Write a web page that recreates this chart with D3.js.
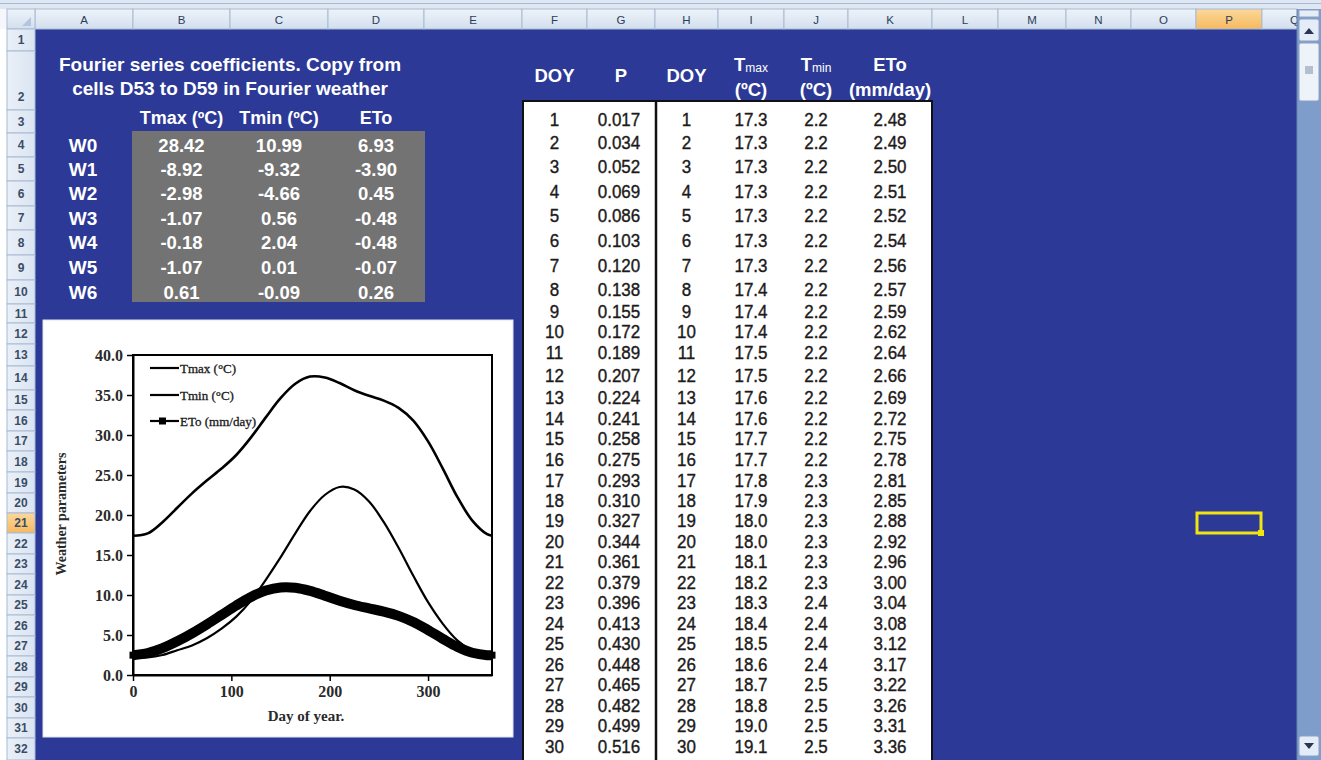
<!DOCTYPE html>
<html><head><meta charset="utf-8">
<script src="https://cdn.jsdelivr.net/npm/d3@7"></script>
<style>body{margin:0;overflow:hidden;background:#fff}svg{display:block}</style>
</head><body><svg id="s" width="1321" height="760"></svg>
<script>
// ---------------- DATA ----------------
const colLetters = ["A","B","C","D","E","F","G","H","I","J","K","L","M","N","O","P","Q"];
const rowNumbers = [1,2,3,4,5,6,7,8,9,10,11,12,13,14,15,16,17,18,19,20,21,22,23,24,25,26,27,28,29,30,31,32];

const titleLines = ["Fourier series coefficients. Copy from", "cells D53 to D59 in Fourier weather"];
const coefHeaders = ["Tmax (\u00BAC)", "Tmin (\u00BAC)", "ETo"];
const coefLabels = ["W0","W1","W2","W3","W4","W5","W6"];
const coefTmax = [28.42,-8.92,-2.98,-1.07,-0.18,-1.07,0.61];
const coefTmin = [10.99,-9.32,-4.66,0.56,2.04,0.01,-0.09];
const coefEto  = [6.93,-3.90,0.45,-0.48,-0.48,-0.07,0.26];

const tableDoy = [1,2,3,4,5,6,7,8,9,10,11,12,13,14,15,16,17,18,19,20,21,22,23,24,25,26,27,28,29,30];
const tableP = [0.017,0.034,0.052,0.069,0.086,0.103,0.120,0.138,0.155,0.172,0.189,0.207,0.224,0.241,0.258,0.275,0.293,0.310,0.327,0.344,0.361,0.379,0.396,0.413,0.430,0.448,0.465,0.482,0.499,0.516];
const tableTmax = [17.3,17.3,17.3,17.3,17.3,17.3,17.3,17.4,17.4,17.4,17.5,17.5,17.6,17.6,17.7,17.7,17.8,17.9,18.0,18.0,18.1,18.2,18.3,18.4,18.5,18.6,18.7,18.8,19.0,19.1];
const tableTmin = [2.2,2.2,2.2,2.2,2.2,2.2,2.2,2.2,2.2,2.2,2.2,2.2,2.2,2.2,2.2,2.2,2.3,2.3,2.3,2.3,2.3,2.3,2.4,2.4,2.4,2.4,2.5,2.5,2.5,2.5];
const tableEto = [2.48,2.49,2.50,2.51,2.52,2.54,2.56,2.57,2.59,2.62,2.64,2.66,2.69,2.72,2.75,2.78,2.81,2.85,2.88,2.92,2.96,3.00,3.04,3.08,3.12,3.17,3.22,3.26,3.31,3.36];

// chart series
const chartDays = [0,15,30,45,60,75,90,105,120,135,150,165,180,195,210,225,240,255,270,285,300,315,330,345,360,365];
const chartTmax = [17.4,17.7,19.1,20.9,22.7,24.3,25.8,27.5,29.7,32.2,34.6,36.4,37.3,37.2,36.5,35.6,34.9,34.3,33.4,31.8,29.2,25.8,22.2,19.3,17.6,17.4];
const chartTmin = [2.2,2.2,2.5,3.1,3.7,4.6,5.8,7.3,9.3,11.9,14.7,17.7,20.5,22.5,23.5,23.2,21.7,19.1,15.9,12.4,9.1,6.4,4.3,3.0,2.3,2.2];
const chartEto  = [2.48,2.75,3.36,4.21,5.21,6.32,7.50,8.69,9.75,10.55,10.95,10.91,10.51,9.91,9.28,8.75,8.33,7.92,7.39,6.62,5.62,4.52,3.50,2.78,2.48,2.48];
const yTicks = [0,5,10,15,20,25,30,35,40];
const xTicks = [0,100,200,300];
const legendNames = ["Tmax (\u00B0C)", "Tmin (\u00B0C)", "ETo (mm/day)"];
const xTitle = "Day of year.";
const yTitle = "Weather parameters";

// ---------------- LAYOUT ----------------
const BLUE = "#2c3996";
const colEdges = [35,133,230,328,424,522,587,655,718,784,848,932,998,1066,1131,1196,1262,1327];
const rowEdges = [29,51,110,133,157,181,206,230,255,280,304,323,344,366,390,410,431,451,472,493,513,533,554,574,595,615,636,656,677,697,718,738,760];
const colC = i => (colEdges[i]+colEdges[i+1])/2;
const rowC = i => (rowEdges[i]+rowEdges[i+1])/2;
const SANS = "'Liberation Sans', Arial, sans-serif";
const SERIF = "'Liberation Serif', 'Times New Roman', serif";

const svg = d3.select("#s");
const defs = svg.append("defs");
const g1 = defs.append("linearGradient").attr("id","hdr").attr("x1",0).attr("x2",0).attr("y1",0).attr("y2",1);
g1.append("stop").attr("offset","0%").attr("stop-color","#eef3fa");
g1.append("stop").attr("offset","100%").attr("stop-color","#d3dfee");
const g2 = defs.append("linearGradient").attr("id","sel").attr("x1",0).attr("x2",0).attr("y1",0).attr("y2",1);
g2.append("stop").attr("offset","0%").attr("stop-color","#fbd89c");
g2.append("stop").attr("offset","100%").attr("stop-color","#f6b95e");
const g3 = defs.append("linearGradient").attr("id","rowh").attr("x1",0).attr("x2",1).attr("y1",0).attr("y2",0);
g3.append("stop").attr("offset","0%").attr("stop-color","#eaf0f8");
g3.append("stop").attr("offset","100%").attr("stop-color","#dae4f1");
defs.append("clipPath").attr("id","sheetclip").append("rect").attr("x",0).attr("y",0).attr("width",1297).attr("height",760);

// window background
svg.append("rect").attr("width",1321).attr("height",760).attr("fill","#f5f7fb");
svg.append("rect").attr("x",0).attr("y",0).attr("width",1321).attr("height",9).attr("fill","#dfe7f2");
svg.append("line").attr("x1",0).attr("x2",1321).attr("y1",3.5).attr("y2",3.5).attr("stroke","#a9bcd6").attr("stroke-width",1);
// sheet area
svg.append("rect").attr("x",35).attr("y",29).attr("width",1262).attr("height",731).attr("fill",BLUE);

// column headers
const ch = svg.append("g").attr("clip-path","url(#sheetclip)");
colLetters.forEach((L,i)=>{
  const sel = L==="P";
  ch.append("rect").attr("x",colEdges[i]).attr("y",9).attr("width",colEdges[i+1]-colEdges[i]).attr("height",20)
    .attr("fill", sel ? "url(#sel)" : "url(#hdr)").attr("stroke","#a7bbd4").attr("stroke-width",1);
  ch.append("text").attr("x",colC(i)).attr("y",19.5).attr("dominant-baseline","central").attr("text-anchor","middle")
    .attr("font-family",SANS).attr("font-size",11.5).attr("fill","#2b3e58").text(L);
});
// corner
svg.append("rect").attr("x",7).attr("y",9).attr("width",28).attr("height",20).attr("fill","url(#hdr)").attr("stroke","#a7bbd4");
svg.append("path").attr("d","M22,26 L31,26 L31,17 Z").attr("fill","#b3c4dc");
// row headers
svg.append("rect").attr("x",0).attr("y",29).attr("width",7).attr("height",731).attr("fill","#ffffff");
rowNumbers.forEach((n,i)=>{
  const sel = n===21;
  svg.append("rect").attr("x",7).attr("y",rowEdges[i]).attr("width",28).attr("height",rowEdges[i+1]-rowEdges[i])
    .attr("fill", sel ? "url(#sel)" : "url(#rowh)").attr("stroke","#a7bbd4").attr("stroke-width",1);
  const yy = Math.max(rowC(i), rowEdges[i+1]-13);
  svg.append("text").attr("x",21).attr("y",yy).attr("dominant-baseline","central").attr("text-anchor","middle")
    .attr("font-family",SANS).attr("font-size",12).attr("font-weight","bold").attr("fill","#3a4d66").text(n);
});

// ---------------- COEFFICIENT BLOCK ----------------
titleLines.forEach((t,i)=>{
  svg.append("text").attr("x",230).attr("y",64+i*24).attr("dominant-baseline","central").attr("text-anchor","middle")
    .attr("font-family",SANS).attr("font-weight","bold").attr("font-size",19).attr("fill","#fff").text(t);
});
coefHeaders.forEach((t,i)=>{
  svg.append("text").attr("x",colC(i+1)).attr("y",118).attr("dominant-baseline","central").attr("text-anchor","middle")
    .attr("font-family",SANS).attr("font-weight","bold").attr("font-size",18).attr("fill","#fff").text(t);
});
svg.append("rect").attr("x",132).attr("y",131).attr("width",293).attr("height",171).attr("fill","#737373");
const coefCols = [coefTmax, coefTmin, coefEto];
coefLabels.forEach((lab,r)=>{
  const yy = rowC(r+3);
  svg.append("text").attr("x",83).attr("y",yy).attr("dominant-baseline","central").attr("text-anchor","middle")
    .attr("font-family",SANS).attr("font-weight","bold").attr("font-size",19).attr("fill","#fff").text(lab);
  coefCols.forEach((arr,c)=>{
    svg.append("text").attr("x",colC(c+1)).attr("y",yy).attr("dominant-baseline","central").attr("text-anchor","middle")
      .attr("font-family",SANS).attr("font-weight","bold").attr("font-size",18.5).attr("fill","#fff").text(arr[r].toFixed(2));
  });
});

// ---------------- DATA TABLE ----------------
svg.append("rect").attr("x",523).attr("y",101).attr("width",409).attr("height",662).attr("fill","#fff").attr("stroke","#111").attr("stroke-width",2);
svg.append("line").attr("x1",656).attr("x2",656).attr("y1",101).attr("y2",760).attr("stroke","#111").attr("stroke-width",2.5);
// headers
const hdrText = (x,y,t,size)=> svg.append("text").attr("x",x).attr("y",y).attr("dominant-baseline","central").attr("text-anchor","middle")
    .attr("font-family",SANS).attr("font-weight","bold").attr("font-size",size||18.5).attr("fill","#fff").text(t);
hdrText(colC(5),75,"DOY");
hdrText(colC(6),75,"P");
hdrText(colC(7),75,"DOY");
[["max",8],["min",9]].forEach(([sub,ci])=>{
  const t = svg.append("text").attr("x",colC(ci)).attr("y",64).attr("dominant-baseline","central").attr("text-anchor","middle")
    .attr("font-family",SANS).attr("fill","#fff");
  t.append("tspan").attr("font-weight","bold").attr("font-size",18.5).text("T");
  t.append("tspan").attr("font-size",12).attr("dy",4).text(sub);
  hdrText(colC(ci),89,"(\u00BAC)");
});
hdrText(colC(10),64,"ETo");
hdrText(colC(10),89,"(mm/day)");

const tableCols = [
  {vals: tableDoy, ci:5, f: d=>String(d)},
  {vals: tableP, ci:6, f: d=>d.toFixed(3)},
  {vals: tableDoy, ci:7, f: d=>String(d)},
  {vals: tableTmax, ci:8, f: d=>d.toFixed(1)},
  {vals: tableTmin, ci:9, f: d=>d.toFixed(1)},
  {vals: tableEto, ci:10, f: d=>d.toFixed(2)}
];
const tg = svg.append("g");
tableCols.forEach(col=>{
  tg.selectAll(null).data(col.vals).enter().append("text")
    .attr("transform",(d,i)=>`translate(${col.ci===6?colC(6)-2:colC(col.ci)},${rowC(i+2)-2}) scale(1,1.12)`)
    .attr("dominant-baseline","central").attr("text-anchor","middle")
    .attr("font-family",SANS).attr("font-size",17).attr("fill","#1d1a1a")
    .attr("stroke","#1d1a1a").attr("stroke-width",0.35).text(col.f);
});

// ---------------- CHART ----------------
svg.append("rect").attr("x",43).attr("y",320).attr("width",470).attr("height",417).attr("fill","#fff").attr("stroke","#dfe3f0").attr("stroke-width",1);
const x = d3.scaleLinear().domain([0,365]).range([133,492]);
const y = d3.scaleLinear().domain([0,40]).range([675,355]);
const cg = svg.append("g");
const yAx = cg.append("g").attr("transform","translate(133,0)")
  .call(d3.axisLeft(y).tickValues(yTicks).tickFormat(d3.format(".1f")).tickSize(6).tickSizeOuter(0).tickPadding(4));
const xAx = cg.append("g").attr("transform","translate(0,675)")
  .call(d3.axisBottom(x).tickValues(xTicks).tickFormat(d3.format("d")).tickSize(6).tickSizeOuter(0).tickPadding(5));
[yAx,xAx].forEach(a=>{
  a.select(".domain").attr("stroke","#000").attr("stroke-width",2);
  a.selectAll(".tick line").attr("stroke","#000").attr("stroke-width",1.5);
  a.selectAll(".tick text").attr("font-family",SERIF).attr("font-size",16).attr("font-weight","bold").attr("fill","#2a2a2a");
});
cg.append("rect").attr("x",133).attr("y",355).attr("width",359).attr("height",320).attr("fill","none").attr("stroke","#000").attr("stroke-width",2);

const line = arr => d3.line().x((d,i)=>x(chartDays[i])).y(d=>y(d)).curve(d3.curveCatmullRom)(arr);
cg.append("path").attr("d",line(chartTmax)).attr("fill","none").attr("stroke","#000").attr("stroke-width",2.6);
cg.append("path").attr("d",line(chartTmin)).attr("fill","none").attr("stroke","#000").attr("stroke-width",2.2);
cg.append("path").attr("d",line(chartEto)).attr("fill","none").attr("stroke","#000").attr("stroke-width",10).attr("stroke-linecap","butt");
cg.selectAll(null).data(chartEto).enter().append("rect")
  .attr("x",(d,i)=>x(chartDays[i])-3.5).attr("y",d=>y(d)-3.5).attr("width",7).attr("height",7).attr("fill","#000");

// legend
legendNames.forEach((t,i)=>{
  const ly = [368,395,421][i];
  cg.append("line").attr("x1",150).attr("x2",179).attr("y1",ly).attr("y2",ly).attr("stroke","#000").attr("stroke-width",2.2);
  if(i===2) cg.append("rect").attr("x",159).attr("y",ly-3.5).attr("width",7).attr("height",7).attr("fill","#000");
  cg.append("text").attr("x",180).attr("y",ly).attr("dominant-baseline","central")
    .attr("font-family",SERIF).attr("font-size",13).attr("fill","#1a1a1a").attr("stroke","#1a1a1a").attr("stroke-width",0.3).text(t);
});
// axis titles
cg.append("text").attr("x",306).attr("y",716).attr("dominant-baseline","central").attr("text-anchor","middle")
  .attr("font-family",SERIF).attr("font-weight","bold").attr("font-size",15).attr("fill","#2a2a2a").text(xTitle);
cg.append("text").attr("transform","translate(61,514) rotate(-90)").attr("dominant-baseline","central").attr("text-anchor","middle")
  .attr("font-family",SERIF).attr("font-weight","bold").attr("font-size",14).attr("fill","#2a2a2a").text(yTitle);

// ---------------- SELECTION ----------------
svg.append("rect").attr("x",1197).attr("y",513).attr("width",64).attr("height",20).attr("fill","none").attr("stroke","#f2e40e").attr("stroke-width",3);
svg.append("rect").attr("x",1258).attr("y",530).attr("width",6).attr("height",6).attr("fill","#f2e40e");

// ---------------- SCROLLBAR ----------------
svg.append("rect").attr("x",1297).attr("y",9).attr("width",24).attr("height",751).attr("fill","#7f9dcb");
svg.append("line").attr("x1",1297).attr("x2",1297).attr("y1",9).attr("y2",760).attr("stroke","#6a84b0");
svg.append("rect").attr("x",1299).attr("y",10).attr("width",20).attr("height",7).attr("fill","#e6edf7").attr("stroke","#8aa2c6");
svg.append("rect").attr("x",1299).attr("y",19).attr("width",20).attr("height",22).attr("rx",2).attr("fill","#e4ecf7").attr("stroke","#8aa2c6");
svg.append("path").attr("d","M1304,34 L1314,34 L1309,28 Z").attr("fill","#2a3550");
svg.append("rect").attr("x",1299).attr("y",43).attr("width",20).attr("height",58).attr("rx",2).attr("fill","#eef3fa").attr("stroke","#8aa2c6");
svg.append("rect").attr("x",1305).attr("y",66).attr("width",8).attr("height",8).attr("fill","#b4bfce");
svg.append("rect").attr("x",1299).attr("y",736).attr("width",20).attr("height",20).attr("rx",2).attr("fill","#e4ecf7").attr("stroke","#8aa2c6");
svg.append("path").attr("d","M1304,743 L1314,743 L1309,749 Z").attr("fill","#2a3550");
</script></body></html>
